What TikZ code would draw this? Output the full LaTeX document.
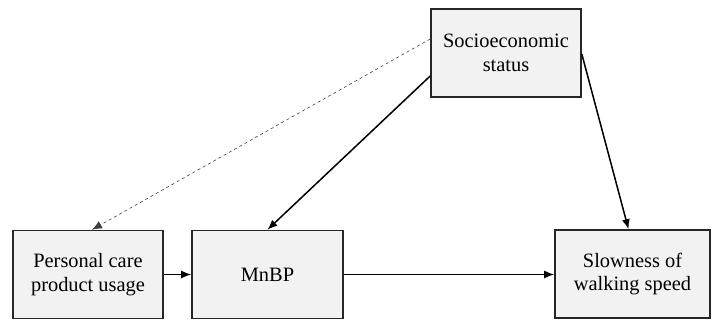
\documentclass[tikz,border=0pt]{standalone}
\usepackage{fontspec}
\setmainfont{Liberation Serif}
\usepackage{tikz}
\usetikzlibrary{arrows.meta}
\usetikzlibrary{positioning}
\definecolor{boxgray}{HTML}{F2F2F2}
\tikzstyle{factor} = [
    rectangle, 
    draw=black!85, 
    fill=boxgray, 
    line width=1.6pt, 
    align=center, 
    font=\fontsize{20.4}{23.5}\selectfont, 
    inner sep=0pt, % size comes from minimum width/height
    minimum width=150pt, 
    minimum height=88pt
]
\tikzstyle{path_arrow} = [
    -{Latex[length=10pt, width=8pt]}, 
    line width=1.5pt, 
    black
]
\tikzstyle{weak_arrow} = [
    -{Latex[length=10pt, width=8pt]}, 
    dashed, 
    line width=0.6pt, 
    black!75
]

\begin{document}
\begin{tikzpicture}[x=1pt, y=1pt]
\useasboundingbox (0,0) rectangle (712,320);
\node [factor] (ses) at (506, 267) {Socioeconomic\\status};
\node [factor] (pcp) at (88, 45.5) {Personal care\\product usage};
\node [factor, minimum width=151pt] (mnbp) at (267.5, 45.5) {MnBP};
\node [factor, minimum width=155pt] (slow) at (632.5, 46) {Slowness of\\walking speed};
% confounder paths
\draw [weak_arrow] ([yshift=14pt]ses.west) -- ([xshift=4pt]pcp.north);
\draw [path_arrow] ([yshift=-23pt]ses.west) -- (mnbp.north);
\draw [path_arrow] ([yshift=-1pt]ses.east) -- ([xshift=-4pt]slow.north);
% main chain
\draw [path_arrow] (pcp.east) -- (mnbp.west);
\draw [path_arrow] (mnbp.east) -- (slow.west |- mnbp.east);
\end{tikzpicture}
\end{document}
